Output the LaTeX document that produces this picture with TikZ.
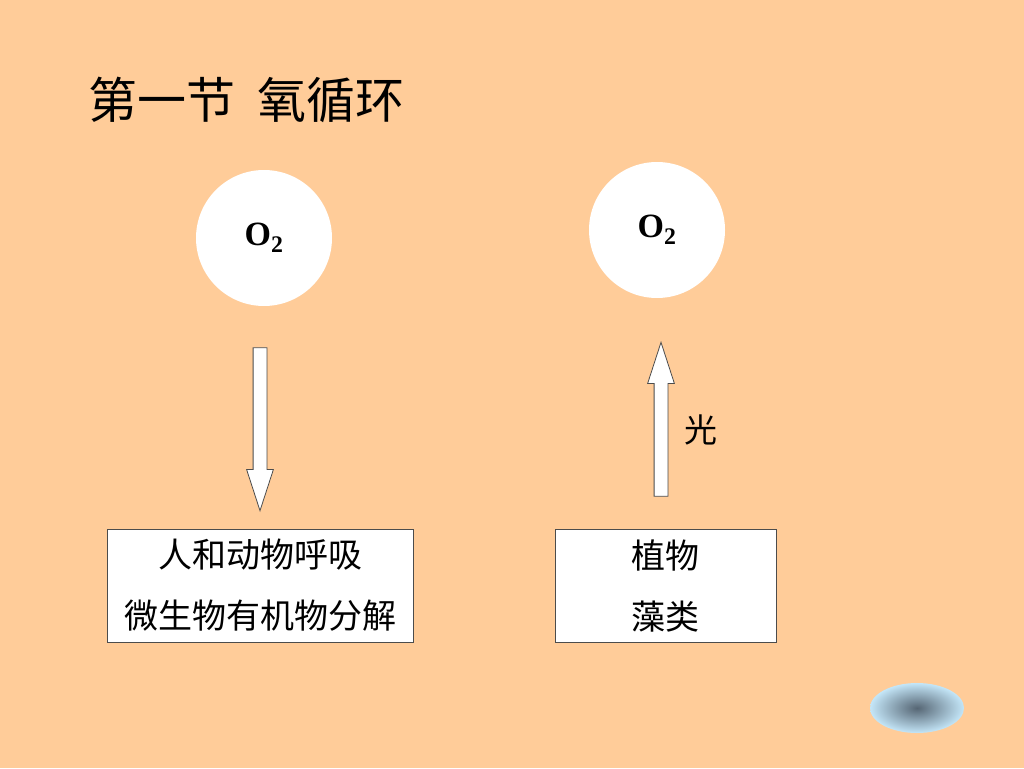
\documentclass[tikz,border=0pt]{standalone}
\usepackage{fontspec}
\setmainfont{Liberation Serif}
\newfontfamily\cjk{Noto Sans CJK SC}
\usetikzlibrary{shapes.arrows}
\definecolor{peach}{HTML}{FFCC99}
\definecolor{bubble}{HTML}{C4E6F8}
\definecolor{bubblecore}{HTML}{566674}
\tikzset{
  oxy/.style={circle, fill=white, minimum size=136pt, inner sep=0pt,
    font=\fontsize{34}{34}\selectfont\bfseries},
  procbox/.style={draw=black!70, fill=white, line width=0.8pt, inner sep=0pt,
    align=center, font=\cjk\fontsize{34}{61}\selectfont},
  flow/.style={single arrow, draw=black!70, fill=white, line width=0.8pt,
    inner sep=6.5pt, single arrow head extend=6.5pt, single arrow head indent=0pt,
    single arrow tip angle=36, anchor=tip}
}
\begin{document}
\begin{tikzpicture}[x=1pt, y=-1pt]
    \fill[peach] (0,0) rectangle (1024,768);
    \useasboundingbox (0,0) rectangle (1024,768);

    \node[anchor=west, font=\cjk\fontsize{49}{49}\selectfont] (title) at (85,100) {第一节\hspace{22pt}氧循环};

    \node[oxy] (o2left) at (264,238) {O\textsubscript{2}};
    \node[oxy] (o2right) at (657,230) {O\textsubscript{2}};

    \node[procbox, minimum width=306pt, minimum height=113pt] (resp) at (260,585.5) {人和动物呼吸\\微生物有机物分解};
    \node[procbox, minimum width=221pt, minimum height=113pt] (plant) at (665.5,585.5) {植物\\藻类};

    \node[flow, rotate=-90, minimum height=163pt] (down) at (260,512) {};
    \node[flow, rotate=90, minimum height=154pt] (up) at (661,341) {};
    \node[font=\cjk\fontsize{33}{33}\selectfont] (light) at (701,430) {光};

    \shade[inner color=bubblecore, outer color=bubble] (917,708) ellipse (47 and 25);
\end{tikzpicture}
\end{document}
